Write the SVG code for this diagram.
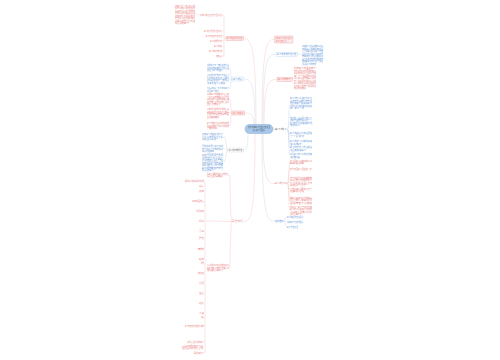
<svg xmlns="http://www.w3.org/2000/svg" width="500" height="360" viewBox="0 0 500 360">
<style>
text{font-family:"Noto Sans CJK SC","Noto Sans",sans-serif;font-size:1.9px}
.r{fill:#e97878}.b{fill:#5a93d9}.g{fill:#666}
.c{fill:none;stroke-width:0.45}
.cr{stroke:#f5c6c6}.cb{stroke:#c6daf1}.cg{stroke:#d6d6d6}
.nr{fill:#fdeaea;stroke:#f09696;stroke-width:0.35}
.nb{fill:#fff;stroke:#b0cbee;stroke-width:0.35}
.ng{fill:#fff;stroke:#cfcfcf;stroke-width:0.35}
</style>
<rect width="500" height="360" fill="#fff"/>
<g id="connectors">
<path class="c cr" d="M256 125 C256 39 250 38.5 243 38.5"/>
<path class="c cb" d="M255 126 C255 79 250 79 243.5 79"/>
<path class="c cr" d="M254 127 C254 113 250 113 244.5 113"/>
<path class="c cg" d="M248 131 C248 150 246 150 243.5 150"/>
<path class="c cr" d="M255 134 C255 221 250 221.5 243.5 221.5"/>
<path class="c cr" d="M262 125 C262 40 268 39.5 274.5 39.5"/>
<path class="c cb" d="M263 125 C263 54 269 54.5 276 54.5"/>
<path class="c cr" d="M264 125 C264 79 270 79.5 277 79.5"/>
<path class="c cg" d="M273 129 C274 129 274 129.5 275 129.5"/>
<path class="c cr" d="M263 134 C263 184 269 183.5 275 183.5"/>
<path class="c cb" d="M262 134 C262 221 268 221 275 221"/>
<path class="c cr" d="M226 38.5 C224.5 38.5 224.5 38.5 224 38.5 M224 15.5 L224 56.5 M222.5 15.5 L224 15.5 M222.5 31 L224 31 M222.5 36 L224 36 M222.5 41 L224 41 M222.5 46 L224 46 M222.5 51 L224 51 M222.5 56 L224 56 M199.5 15 C197 15 198 14 195.5 14"/>
<path class="c cb" d="M232 79 C230.5 79 231 68 229.5 68 M232 79 C230.5 79 231 79.5 229.5 79.5 M232 79 C230.5 79 231 90 229.5 90"/>
<path class="c cr" d="M232 113 C230.5 113 231 99 229.5 99 M232 113 C230.5 113 231 112.5 229.5 112.5 M232 113 C230.5 113 231 126 229.5 126"/>
<path class="c cg" d="M228 150 C226 150 226 136.5 224 136.5 M228 150 C226 150 226 149 224 149 M228 150 C226 150 226 162 224 162"/>
<path class="c cr" d="M232 221.5 C230 221.5 230.5 175 229.5 175 M232 221.5 C230 221.5 230.5 268 229.5 268 M232 221.5 C220 221.5 215 221 205 221 M205 181 L205 353"/>
<path class="c cb" d="M297.5 54.5 C300 54.5 299.5 54.5 301.5 54.5"/>
<path class="c cr" d="M292.5 79.5 C293 79.5 293 78 294 78"/>
<path class="c cb" d="M287.5 129.5 C289 129.5 288.5 104 290 104 M287.5 129.5 C289 129.5 288.5 122 290 122 M287.5 129.5 C289 129.5 288.5 135 290 135 M287.5 129.5 C289 129.5 288.5 143 290 143 M287.5 129.5 C289 129.5 288.5 148 290 148 M287.5 129.5 C289 129.5 288.5 155 290 155"/>
<path class="c cr" d="M287.5 183.5 C289 183.5 288.5 162 290 162 M287.5 183.5 C289 183.5 288.5 169 290 169 M287.5 183.5 C289 183.5 288.5 182 290 182 M287.5 183.5 C289 183.5 288.5 190 290 190 M287.5 183.5 C289 183.5 288.5 201 290 201 M287.5 183.5 C289 183.5 288.5 211 290 211"/>
<path class="c cb" d="M283.5 221 C285 221 285 217 286.5 217 M283.5 221 C285 221 285 222 286.5 222 M283.5 221 C285 221 285 227 286.5 227"/>
</g>
<g id="center">
<rect x="245" y="124.5" width="28" height="9" rx="4.5" fill="#a9c7e8" stroke="#7ba8dc" stroke-width="0.45"/>
<text x="259" y="128.3" text-anchor="middle" textLength="22" lengthAdjust="spacingAndGlyphs" style="fill:#3a4d66">关于我的家乡作文范文大全</text>
<text x="259" y="131.4" text-anchor="middle" textLength="12" lengthAdjust="spacingAndGlyphs" style="fill:#3a4d66">精选六百字</text>
</g>
<g id="L1">
<rect class="nr" x="226" y="36.5" width="17.5" height="4"/>
<text class="r" x="227" y="39.3" textLength="15.5" lengthAdjust="spacingAndGlyphs">家乡的变化作文范文</text>
<text class="r" x="222" y="16" text-anchor="end" textLength="22" lengthAdjust="spacingAndGlyphs">我的家乡变化真大作文六百字范文</text>
<text class="r" x="175" y="6.5" textLength="20" lengthAdjust="spacingAndGlyphs">我的家乡是一个美丽的小山村</text>
<text class="r" x="175" y="9" textLength="20" lengthAdjust="spacingAndGlyphs">那里有清澈的小河和茂密的树林</text>
<text class="r" x="175" y="11.5" textLength="20" lengthAdjust="spacingAndGlyphs">每到春天山上开满了各种野花</text>
<text class="r" x="175" y="14" textLength="20" lengthAdjust="spacingAndGlyphs">夏天我们在河边捉鱼摸虾玩耍</text>
<text class="r" x="175" y="16.5" textLength="20" lengthAdjust="spacingAndGlyphs">秋天稻田里一片金黄丰收在望</text>
<text class="r" x="175" y="19" textLength="20" lengthAdjust="spacingAndGlyphs">这些年家乡发生了很大的变化</text>
<text class="r" x="175" y="21.5" textLength="20" lengthAdjust="spacingAndGlyphs">宽阔的马路代替了泥泞的小路</text>
<text class="r" x="175" y="24" textLength="14" lengthAdjust="spacingAndGlyphs">我爱我的家乡</text>
<text class="r" x="222" y="31.8" text-anchor="end" textLength="18" lengthAdjust="spacingAndGlyphs">家乡的小河作文范文精选</text>
<text class="r" x="222" y="36.8" text-anchor="end" textLength="16" lengthAdjust="spacingAndGlyphs">家乡的春天作文范文</text>
<text class="r" x="222" y="41.8" text-anchor="end" textLength="12" lengthAdjust="spacingAndGlyphs">家乡的美食作文</text>
<text class="r" x="222" y="46.8" text-anchor="end" textLength="8" lengthAdjust="spacingAndGlyphs">家乡的秋</text>
<text class="r" x="222" y="51.8" text-anchor="end" textLength="13" lengthAdjust="spacingAndGlyphs">家乡的风景作文</text>
<text class="r" x="222" y="56.8" text-anchor="end" textLength="6" lengthAdjust="spacingAndGlyphs">结尾</text>
</g>
<g id="L2">
<rect class="nb" x="232" y="77" width="11.5" height="4"/>
<text class="b" x="233" y="79.8" textLength="9.5" lengthAdjust="spacingAndGlyphs">家乡的桥</text>
<text class="b" x="207" y="66" textLength="22" lengthAdjust="spacingAndGlyphs">我的家乡有一座古老的石桥</text>
<text class="b" x="207" y="68.5" textLength="22" lengthAdjust="spacingAndGlyphs">它静静地横跨在小河的上面</text>
<text class="b" x="207" y="71" textLength="16" lengthAdjust="spacingAndGlyphs">见证了家乡的变迁</text>
<text class="b" x="207" y="76" textLength="22" lengthAdjust="spacingAndGlyphs">小时候我常常和伙伴在桥上</text>
<text class="b" x="207" y="78.5" textLength="22" lengthAdjust="spacingAndGlyphs">看河水缓缓流过听老人讲故事</text>
<text class="b" x="207" y="81" textLength="22" lengthAdjust="spacingAndGlyphs">如今旁边又修起了一座新大桥</text>
<text class="b" x="207" y="83.5" textLength="18" lengthAdjust="spacingAndGlyphs">车来车往十分热闹</text>
<text class="b" x="207" y="89" textLength="22" lengthAdjust="spacingAndGlyphs">石桥和新桥一起守护着家乡</text>
<text class="b" x="207" y="91.5" textLength="12" lengthAdjust="spacingAndGlyphs">我爱家乡的桥</text>
</g>
<g id="L3">
<rect class="nr" x="232" y="111" width="12.5" height="4"/>
<text class="r" x="233" y="113.8" textLength="10.5" lengthAdjust="spacingAndGlyphs">家乡的变化</text>
<text class="r" x="207" y="95" textLength="22" lengthAdjust="spacingAndGlyphs">以前家乡的路都是泥土路</text>
<text class="r" x="207" y="97.5" textLength="22" lengthAdjust="spacingAndGlyphs">一到下雨天就变得泥泞不堪</text>
<text class="r" x="207" y="100" textLength="22" lengthAdjust="spacingAndGlyphs">现在修成了宽阔的柏油马路</text>
<text class="r" x="207" y="102.5" textLength="22" lengthAdjust="spacingAndGlyphs">路边种上了整齐的行道树</text>
<text class="r" x="207" y="105" textLength="14" lengthAdjust="spacingAndGlyphs">出行方便多了</text>
<text class="r" x="207" y="110" textLength="22" lengthAdjust="spacingAndGlyphs">以前村民住的是低矮的瓦房</text>
<text class="r" x="207" y="112.5" textLength="22" lengthAdjust="spacingAndGlyphs">现在家家户户盖起了小楼房</text>
<text class="r" x="207" y="115" textLength="22" lengthAdjust="spacingAndGlyphs">屋里有电视空调和电脑</text>
<text class="r" x="207" y="117.5" textLength="12" lengthAdjust="spacingAndGlyphs">生活越来越好</text>
<text class="r" x="207" y="124" textLength="22" lengthAdjust="spacingAndGlyphs">家乡的变化真大啊我相信</text>
<text class="r" x="207" y="126.5" textLength="22" lengthAdjust="spacingAndGlyphs">在大家的努力下家乡的明天</text>
<text class="r" x="207" y="129" textLength="10" lengthAdjust="spacingAndGlyphs">会更加美好</text>
</g>
<g id="L4">
<rect class="ng" x="228" y="148" width="15.5" height="4"/>
<text class="g" x="229" y="150.8" textLength="13.5" lengthAdjust="spacingAndGlyphs">家乡的四季作文</text>
<text class="b" x="202" y="135" textLength="21" lengthAdjust="spacingAndGlyphs">春天家乡的柳树发芽了</text>
<text class="b" x="202" y="137.5" textLength="21" lengthAdjust="spacingAndGlyphs">小草从地里探出了头</text>
<text class="b" x="202" y="140" textLength="14" lengthAdjust="spacingAndGlyphs">到处生机勃勃</text>
<text class="b" x="202" y="147" textLength="21" lengthAdjust="spacingAndGlyphs">夏天荷塘里开满了荷花</text>
<text class="b" x="202" y="149.5" textLength="21" lengthAdjust="spacingAndGlyphs">知了在树上不停地叫着</text>
<text class="b" x="202" y="152" textLength="12" lengthAdjust="spacingAndGlyphs">孩子们在嬉戏</text>
<text class="b" x="202" y="156" textLength="21" lengthAdjust="spacingAndGlyphs">秋天果园里硕果累累</text>
<text class="b" x="202" y="158.5" textLength="21" lengthAdjust="spacingAndGlyphs">苹果红了梨子黄了</text>
<text class="b" x="202" y="161" textLength="21" lengthAdjust="spacingAndGlyphs">农民伯伯脸上露出了笑容</text>
<text class="b" x="202" y="163.5" textLength="21" lengthAdjust="spacingAndGlyphs">冬天大雪纷飞银装素裹</text>
<text class="b" x="202" y="166" textLength="21" lengthAdjust="spacingAndGlyphs">我们堆雪人打雪仗</text>
<text class="b" x="202" y="168.5" textLength="21" lengthAdjust="spacingAndGlyphs">家乡的四季各有特色</text>
<text class="b" x="202" y="171" textLength="12" lengthAdjust="spacingAndGlyphs">我爱我的家乡</text>
</g>
<g id="L5">
<text class="r" x="232" y="222.3" textLength="11" lengthAdjust="spacingAndGlyphs">写作技巧</text>
<text class="r" x="207" y="174.5" textLength="22" lengthAdjust="spacingAndGlyphs">写家乡要抓住家乡的特点</text>
<text class="r" x="207" y="177" textLength="16" lengthAdjust="spacingAndGlyphs">写出真情实感</text>
<text class="r" x="207" y="266" textLength="22" lengthAdjust="spacingAndGlyphs">可以按照时间顺序或空间顺序</text>
<text class="r" x="207" y="268.5" textLength="22" lengthAdjust="spacingAndGlyphs">来安排文章结构层次要清楚</text>
<text class="r" x="207" y="271" textLength="16" lengthAdjust="spacingAndGlyphs">结尾要点明中心</text>
<text class="r" x="204" y="181.8" text-anchor="end" textLength="19" lengthAdjust="spacingAndGlyphs">描写家乡的好词好句积累</text>
<text class="r" x="204" y="186.8" text-anchor="end" textLength="5" lengthAdjust="spacingAndGlyphs">山清</text>
<text class="r" x="204" y="191.8" text-anchor="end" textLength="5" lengthAdjust="spacingAndGlyphs">水秀</text>
<text class="r" x="204" y="201.8" text-anchor="end" textLength="12" lengthAdjust="spacingAndGlyphs">风景如画美丽</text>
<text class="r" x="204" y="211.8" text-anchor="end" textLength="8" lengthAdjust="spacingAndGlyphs">鸟语花香</text>
<text class="r" x="204" y="221.8" text-anchor="end" textLength="5" lengthAdjust="spacingAndGlyphs">绿树</text>
<text class="r" x="204" y="231.8" text-anchor="end" textLength="5" lengthAdjust="spacingAndGlyphs">青山</text>
<text class="r" x="204" y="239.3" text-anchor="end" textLength="5" lengthAdjust="spacingAndGlyphs">碧水</text>
<text class="r" x="204" y="249.8" text-anchor="end" textLength="6" lengthAdjust="spacingAndGlyphs">田野</text>
<text class="r" x="204" y="259.8" text-anchor="end" textLength="5" lengthAdjust="spacingAndGlyphs">稻香</text>
<text class="r" x="204" y="263.8" text-anchor="end" textLength="3" lengthAdjust="spacingAndGlyphs">村</text>
<text class="r" x="204" y="273.8" text-anchor="end" textLength="6" lengthAdjust="spacingAndGlyphs">炊烟</text>
<text class="r" x="204" y="283.8" text-anchor="end" textLength="5" lengthAdjust="spacingAndGlyphs">小河</text>
<text class="r" x="204" y="293.8" text-anchor="end" textLength="5" lengthAdjust="spacingAndGlyphs">古桥</text>
<text class="r" x="204" y="303.8" text-anchor="end" textLength="5" lengthAdjust="spacingAndGlyphs">老街</text>
<text class="r" x="204" y="313.8" text-anchor="end" textLength="5" lengthAdjust="spacingAndGlyphs">乡音</text>
<text class="r" x="204" y="317.8" text-anchor="end" textLength="3" lengthAdjust="spacingAndGlyphs">情</text>
<text class="r" x="204" y="326.8" text-anchor="end" textLength="19" lengthAdjust="spacingAndGlyphs">家乡的景色美不胜收令人陶醉</text>
<text class="r" x="204" y="342.8" text-anchor="end" textLength="17" lengthAdjust="spacingAndGlyphs">我永远爱着我的家乡</text>
<text class="r" x="182" y="346.5" textLength="21" lengthAdjust="spacingAndGlyphs">无论走到哪里我都不会忘记</text>
<text class="r" x="182" y="349" textLength="21" lengthAdjust="spacingAndGlyphs">生我养我的这片土地</text>
<text class="r" x="204" y="353.8" text-anchor="end" textLength="10" lengthAdjust="spacingAndGlyphs">思念家乡</text>
</g>
<g id="R1">
<rect class="nr" x="274.5" y="36" width="18.5" height="7" rx="0.5"/>
<text class="r" x="275.5" y="39" textLength="16.5" lengthAdjust="spacingAndGlyphs">我的家乡作文六百字</text>
<text class="r" x="275.5" y="42" textLength="11" lengthAdjust="spacingAndGlyphs">初中范文精选</text>
</g>
<g id="R2">
<rect class="nb" x="276" y="52.5" width="21.5" height="4"/>
<text class="b" x="277" y="55.3" textLength="19.5" lengthAdjust="spacingAndGlyphs">家乡的美景作文范文</text>
<text class="b" x="302" y="47" textLength="21" lengthAdjust="spacingAndGlyphs">我的家乡坐落在群山之间</text>
<text class="b" x="302" y="49.5" textLength="21" lengthAdjust="spacingAndGlyphs">那里山清水秀风景如画</text>
<text class="b" x="302" y="52" textLength="21" lengthAdjust="spacingAndGlyphs">清晨薄雾笼罩着整个村庄</text>
<text class="b" x="302" y="54.5" textLength="21" lengthAdjust="spacingAndGlyphs">太阳升起时金光洒满大地</text>
<text class="b" x="302" y="57" textLength="21" lengthAdjust="spacingAndGlyphs">村前的小河清澈见底</text>
<text class="b" x="302" y="59.5" textLength="21" lengthAdjust="spacingAndGlyphs">鱼儿在水中自由地游来游去</text>
<text class="b" x="302" y="62" textLength="21" lengthAdjust="spacingAndGlyphs">傍晚家家户户升起了炊烟</text>
<text class="b" x="302" y="64.5" textLength="14" lengthAdjust="spacingAndGlyphs">我爱家乡的美景</text>
</g>
<g id="R3">
<rect class="nr" x="277" y="77.5" width="15.5" height="4"/>
<text class="r" x="278" y="80.3" textLength="13.5" lengthAdjust="spacingAndGlyphs">家乡的特产</text>
<text class="r" x="294" y="69" textLength="22" lengthAdjust="spacingAndGlyphs">我的家乡有很多特产</text>
<text class="r" x="294" y="71.5" textLength="22" lengthAdjust="spacingAndGlyphs">其中最有名的是甜甜的橘子</text>
<text class="r" x="294" y="74" textLength="22" lengthAdjust="spacingAndGlyphs">每到秋天橘子树上挂满了果实</text>
<text class="r" x="294" y="76.5" textLength="22" lengthAdjust="spacingAndGlyphs">像一个个金黄的小灯笼</text>
<text class="r" x="294" y="79" textLength="22" lengthAdjust="spacingAndGlyphs">剥开橘子皮果肉晶莹剔透</text>
<text class="r" x="294" y="81.5" textLength="22" lengthAdjust="spacingAndGlyphs">吃一口又酸又甜十分可口</text>
<text class="r" x="294" y="84" textLength="22" lengthAdjust="spacingAndGlyphs">家乡的橘子远销全国各地</text>
<text class="r" x="294" y="86.5" textLength="22" lengthAdjust="spacingAndGlyphs">我为家乡的特产感到骄傲</text>
<text class="r" x="294" y="89" textLength="12" lengthAdjust="spacingAndGlyphs">欢迎你来做客</text>
</g>
<g id="R4">
<text class="g" x="275" y="130.3" textLength="12" lengthAdjust="spacingAndGlyphs">家乡的人</text>
<text class="b" x="290" y="99" textLength="22" lengthAdjust="spacingAndGlyphs">家乡的人们勤劳善良</text>
<text class="b" x="290" y="101.5" textLength="22" lengthAdjust="spacingAndGlyphs">每天天不亮就下地干活</text>
<text class="b" x="290" y="104" textLength="22" lengthAdjust="spacingAndGlyphs">他们用双手建设着家乡</text>
<text class="b" x="290" y="106.5" textLength="22" lengthAdjust="spacingAndGlyphs">邻里之间互相帮助和睦相处</text>
<text class="b" x="290" y="109" textLength="14" lengthAdjust="spacingAndGlyphs">像一家人一样</text>
<text class="b" x="290" y="118.5" textLength="22" lengthAdjust="spacingAndGlyphs">村口的王爷爷是个热心人</text>
<text class="b" x="290" y="121" textLength="22" lengthAdjust="spacingAndGlyphs">谁家有困难他总是第一个</text>
<text class="b" x="290" y="123.5" textLength="22" lengthAdjust="spacingAndGlyphs">赶过去帮忙大家都很敬重他</text>
<text class="b" x="290" y="126" textLength="10" lengthAdjust="spacingAndGlyphs">他是好人</text>
<text class="b" x="290" y="134" textLength="22" lengthAdjust="spacingAndGlyphs">家乡的孩子们天真活泼</text>
<text class="b" x="290" y="136.5" textLength="14" lengthAdjust="spacingAndGlyphs">个个爱学习</text>
<text class="b" x="290" y="142" textLength="22" lengthAdjust="spacingAndGlyphs">家乡的老人们慈祥和蔼</text>
<text class="b" x="290" y="144.5" textLength="12" lengthAdjust="spacingAndGlyphs">安享晚年</text>
<text class="b" x="290" y="148" textLength="22" lengthAdjust="spacingAndGlyphs">家乡的年轻人外出闯荡</text>
<text class="b" x="290" y="150.5" textLength="16" lengthAdjust="spacingAndGlyphs">又回来建设家乡</text>
<text class="b" x="290" y="155" textLength="22" lengthAdjust="spacingAndGlyphs">我爱家乡的人们他们朴实</text>
<text class="b" x="290" y="157.5" textLength="10" lengthAdjust="spacingAndGlyphs">又热情</text>
</g>
<g id="R5">
<text class="r" x="275" y="184.3" textLength="12" lengthAdjust="spacingAndGlyphs">家乡的节日</text>
<text class="r" x="290" y="161.5" textLength="22" lengthAdjust="spacingAndGlyphs">春节是家乡最热闹的节日</text>
<text class="r" x="290" y="164" textLength="14" lengthAdjust="spacingAndGlyphs">家家贴春联</text>
<text class="r" x="290" y="169.5" textLength="22" lengthAdjust="spacingAndGlyphs">除夕夜全家人围坐在一起</text>
<text class="r" x="290" y="178.5" textLength="22" lengthAdjust="spacingAndGlyphs">吃年夜饭看春晚放鞭炮</text>
<text class="r" x="290" y="181" textLength="22" lengthAdjust="spacingAndGlyphs">孩子们穿上新衣服去拜年</text>
<text class="r" x="290" y="183.5" textLength="22" lengthAdjust="spacingAndGlyphs">大人们给孩子们发压岁钱</text>
<text class="r" x="290" y="186" textLength="16" lengthAdjust="spacingAndGlyphs">到处喜气洋洋</text>
<text class="r" x="290" y="189.5" textLength="22" lengthAdjust="spacingAndGlyphs">元宵节家乡要举行灯会</text>
<text class="r" x="290" y="192" textLength="14" lengthAdjust="spacingAndGlyphs">还要猜灯谜</text>
<text class="r" x="290" y="198.5" textLength="22" lengthAdjust="spacingAndGlyphs">端午节家家户户包粽子</text>
<text class="r" x="290" y="201" textLength="22" lengthAdjust="spacingAndGlyphs">河上举行龙舟比赛</text>
<text class="r" x="290" y="203.5" textLength="22" lengthAdjust="spacingAndGlyphs">锣鼓喧天十分热闹</text>
<text class="r" x="290" y="207.5" textLength="22" lengthAdjust="spacingAndGlyphs">中秋节一家人赏月吃月饼</text>
<text class="r" x="290" y="210" textLength="22" lengthAdjust="spacingAndGlyphs">家乡的节日充满了浓浓的</text>
<text class="r" x="290" y="212.5" textLength="22" lengthAdjust="spacingAndGlyphs">人情味让我难以忘怀</text>
<text class="r" x="290" y="215" textLength="12" lengthAdjust="spacingAndGlyphs">我爱家乡</text>
</g>
<g id="R6">
<text class="b" x="275" y="221.8" textLength="8.5" lengthAdjust="spacingAndGlyphs">相关推荐</text>
<text class="b" x="287" y="217.8" textLength="16" lengthAdjust="spacingAndGlyphs">家乡的变化作文三百字</text>
<text class="b" x="287" y="222.8" textLength="16" lengthAdjust="spacingAndGlyphs">我的家乡作文四百字</text>
<text class="b" x="287" y="227.8" textLength="11" lengthAdjust="spacingAndGlyphs">家乡作文大全</text>
</g>
</svg>
